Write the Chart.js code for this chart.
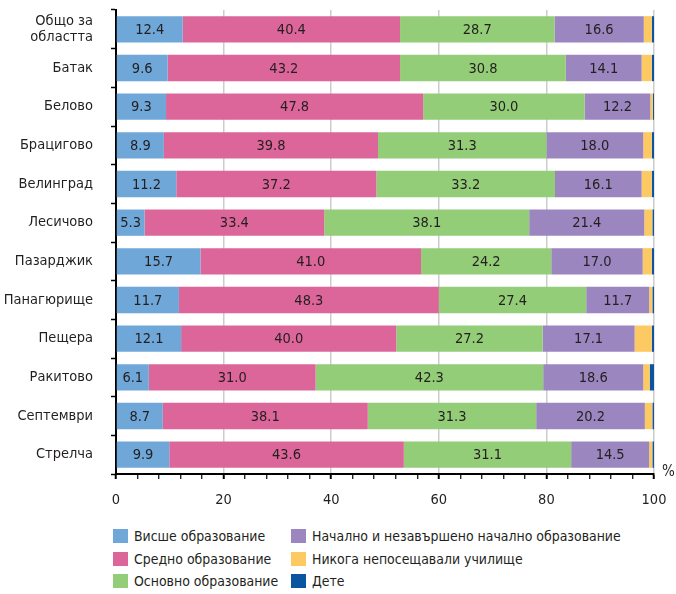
<!DOCTYPE html>
<html>
<head>
<meta charset="utf-8">
<script src="https://cdn.jsdelivr.net/npm/chart.js@4"></script>
<style>
  html, body { margin: 0; padding: 0; background: #fff; }
  #wrap { position: relative; width: 676px; height: 594px; }
  #c { position: absolute; left: 0; top: 0; }
  .lg { position: absolute; font: 14.5px 'DejaVu Sans Condensed', sans-serif; color: #231f20; white-space: nowrap; line-height: 18px; height: 18px; }
  .lg span.box { position: absolute; left: 0; top: 2px; width: 15px; height: 14px; }
  .lg span.t { position: absolute; left: 21px; top: 0; transform: scaleX(0.96); transform-origin: 0 50%; }
</style>
</head>
<body>
<div id="wrap">
  <canvas id="c" width="676" height="515"></canvas>
  <div id="legend"></div>
</div>
<script>
const categories = [['Общо за', 'областта'], 'Батак', 'Белово', 'Брацигово', 'Велинград', 'Лесичово', 'Пазарджик', 'Панагюрище', 'Пещера', 'Ракитово', 'Септември', 'Стрелча'];
const seriesNames = ['Висше образование', 'Средно образование', 'Основно образование', 'Начално и незавършено начално образование', 'Никога непосещавали училище', 'Дете'];
const seriesColors = ['#6fa7d9', '#dc6699', '#93cd77', '#9b86bf', '#fdc962', '#0b549f'];
const higher    = [12.4, 9.6, 9.3, 8.9, 11.2, 5.3, 15.7, 11.7, 12.1, 6.1, 8.7, 9.9];
const secondary = [40.4, 43.2, 47.8, 39.8, 37.2, 33.4, 41.0, 48.3, 40.0, 31.0, 38.1, 43.6];
const basic     = [28.7, 30.8, 30.0, 31.3, 33.2, 38.1, 24.2, 27.4, 27.2, 42.3, 31.3, 31.1];
const primary   = [16.6, 14.1, 12.2, 18.0, 16.1, 21.4, 17.0, 11.7, 17.1, 18.6, 20.2, 14.5];
const never     = [1.5, 1.9, 0.5, 1.6, 1.9, 1.5, 1.7, 0.6, 3.2, 1.2, 1.4, 0.6];
const child     = [0.4, 0.4, 0.2, 0.4, 0.4, 0.3, 0.4, 0.3, 0.4, 0.8, 0.3, 0.3];
const xTicksMajor = [0, 20, 40, 60, 80, 100];
const unitLabel = '%';

const FONT = "'DejaVu Sans Condensed', sans-serif";
const TEXT = '#231f20';
const allSeries = [higher, secondary, basic, primary, never, child];

const datasets = allSeries.map((d, i) => ({
  label: seriesNames[i],
  data: d,
  backgroundColor: seriesColors[i],
  borderWidth: 0,
  barPercentage: 0.68,
  categoryPercentage: 1.0
}));

const labelsPlugin = {
  id: 'segLabels',
  afterDatasetsDraw(chart) {
    const ctx = chart.ctx;
    ctx.save();
    ctx.font = '14.5px ' + FONT;
    ctx.fillStyle = TEXT;
    ctx.textAlign = 'center';
    ctx.textBaseline = 'middle';
    for (let di = 0; di < 4; di++) {
      const meta = chart.getDatasetMeta(di);
      meta.data.forEach((el, i) => {
        const v = chart.data.datasets[di].data[i];
        const cx = (el.x + el.base) / 2;
        ctx.fillText(v.toFixed(1), cx, el.y + 1);
      });
    }
    const xs = chart.scales.x;
    ctx.textAlign = 'left';
    ctx.font = '15px ' + FONT;
    ctx.fillText(unitLabel, xs.getPixelForValue(100) + 8, chart.chartArea.bottom - 2);
    ctx.restore();
  }
};

new Chart(document.getElementById('c'), {
  type: 'bar',
  data: { labels: categories, datasets },
  options: {
    indexAxis: 'y',
    responsive: false,
    animation: false,
    layout: { padding: { top: 10, right: 22, left: 0, bottom: 0 } },
    plugins: { legend: { display: false }, tooltip: { enabled: false } },
    scales: {
      x: {
        stacked: true,
        min: 0, max: 100,
        afterFit(s) { s.height = 41; s.paddingLeft = 0; s.paddingRight = 0; },
        ticks: {
          stepSize: 4,
          autoSkip: false,
          maxRotation: 0,
          padding: 13,
          color: TEXT,
          font: { family: FONT, size: 14.5 },
          callback: (v) => xTicksMajor.includes(v) ? String(v) : ''
        },
        grid: {
          drawOnChartArea: true,
          color: (c) => (c.tick && xTicksMajor.includes(c.tick.value) && c.tick.value > 0) ? '#cccccc' : 'rgba(0,0,0,0)',
          lineWidth: 1.5,
          tickColor: '#000',
          tickLength: 5,
          tickWidth: (c) => (c.tick && xTicksMajor.includes(c.tick.value)) ? 2 : 1.2
        },
        border: { color: '#000', width: 2 }
      },
      y: {
        stacked: true,
        afterFit(s) { s.width = 116; s.paddingTop = 0; s.paddingBottom = 0; },
        ticks: {
          color: TEXT,
          padding: 18,
          font: { family: FONT, size: 14.5, lineHeight: 1.1 }
        },
        grid: {
          drawOnChartArea: false,
          offset: true,
          tickColor: '#000',
          tickLength: 5,
          tickWidth: 1.5
        },
        border: { color: '#000', width: 2 }
      }
    }
  },
  plugins: [labelsPlugin]
});

const legend = document.getElementById('legend');
const colX = [113, 291];
const rowY = [527, 549.5, 572];
seriesNames.forEach((name, i) => {
  const col = Math.floor(i / 3), row = i % 3;
  const d = document.createElement('div');
  d.className = 'lg';
  d.style.left = colX[col] + 'px';
  d.style.top = rowY[row] + 'px';
  d.innerHTML = '<span class="box" style="background:' + seriesColors[i] + '"></span><span class="t"></span>';
  d.querySelector('.t').textContent = name;
  legend.appendChild(d);
});
</script>
</body>
</html>
